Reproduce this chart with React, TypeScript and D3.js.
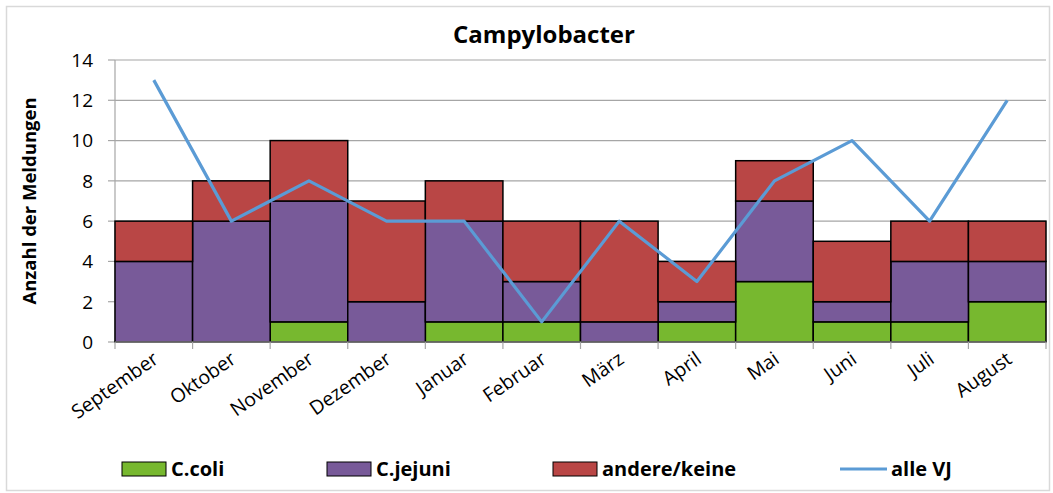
import * as d3 from "d3";

const months = ["September", "Oktober", "November", "Dezember", "Januar", "Februar", "März", "April", "Mai", "Juni", "Juli", "August"];
const coli = [0, 0, 1, 0, 1, 1, 0, 1, 3, 1, 1, 2];
const jejuni = [4, 6, 6, 2, 5, 2, 1, 1, 4, 1, 3, 2];
const andere = [2, 2, 3, 5, 2, 3, 5, 2, 2, 3, 2, 2];
const alleVJ = [13, 6, 8, 6, 6, 1, 6, 3, 8, 10, 6, 12];
const yTicks = [0, 2, 4, 6, 8, 10, 12, 14];

const seriesNames = ["C.coli", "C.jejuni", "andere/keine"];
const colors = ["#77b82f", "#785a99", "#b94645"];
const lineColor = "#5b9bd5";

const W = 1053;
const H = 493;
const margin = { left: 115, right: 7, top: 60, bottom: 151 };
const font = "'Open Sans', Lato, sans-serif";

export default function App() {
  const x = d3.scaleBand<string>().domain(months).range([margin.left, W - margin.right]).padding(0);
  const y = d3.scaleLinear().domain([0, 14]).range([H - margin.bottom, margin.top]);

  const rows = months.map((m, i) => ({ month: m, coli: coli[i], jejuni: jejuni[i], andere: andere[i] }));
  const stack = d3.stack<any>().keys(["coli", "jejuni", "andere"])(rows);

  const line = d3
    .line<number>()
    .x((_, i) => (x(months[i]) as number) + x.bandwidth() / 2)
    .y((d) => y(d));

  const legend = [
    { label: seriesNames[0], color: colors[0], x: 122, kind: "rect" },
    { label: seriesNames[1], color: colors[1], x: 327, kind: "rect" },
    { label: seriesNames[2], color: colors[2], x: 553, kind: "rect" },
    { label: "alle VJ", color: lineColor, x: 840, kind: "line" },
  ];

  const x0 = margin.left;
  const x1 = W - margin.right;

  return (
    <svg width={W} height={H} style={{ position: "absolute", left: 0, top: 0, background: "white" }} fontFamily={font}>
      <rect x={6.5} y={6.5} width={1043} height={484} fill="white" stroke="#d9d9d9" strokeWidth={1.5} />
      <text x={544} y={43} textAnchor="middle" fontSize={24} fontWeight="bold" fill="#000">
        Campylobacter
      </text>

      {/* grid and y axis */}
      {yTicks.map((t) => (
        <g key={t}>
          {t > 0 && <line x1={x0} x2={x1} y1={y(t)} y2={y(t)} stroke="#a6a6a6" strokeWidth={1.2} />}
          <line x1={x0 - 7} x2={x0} y1={y(t)} y2={y(t)} stroke="#a6a6a6" strokeWidth={1.2} />
          <text x={x0 - 22} y={y(t)} dy="0.36em" textAnchor="end" fontSize={19} fill="#000">
            {t}
          </text>
        </g>
      ))}
      <line x1={x0} x2={x0} y1={y(14)} y2={y(0)} stroke="#a6a6a6" strokeWidth={1.2} />

      {/* stacked bars */}
      {stack.map((s, si) =>
        s.map((d, i) =>
          d[1] - d[0] > 0 ? (
            <rect
              key={`${si}-${i}`}
              x={x(months[i])}
              y={y(d[1])}
              width={x.bandwidth()}
              height={y(d[0]) - y(d[1])}
              fill={colors[si]}
              stroke="#000"
              strokeWidth={1.5}
            />
          ) : null
        )
      )}

      {/* x axis */}
      <line x1={x0} x2={x1} y1={y(0)} y2={y(0)} stroke="#a6a6a6" strokeWidth={1.2} />
      {[...months.map((m) => x(m) as number), x1].map((px, i) => (
        <line key={i} x1={px} x2={px} y1={y(0)} y2={y(0) + 7} stroke="#a6a6a6" strokeWidth={1.2} />
      ))}
      {months.map((m) => {
        const cx = (x(m) as number) + x.bandwidth() / 2 + 6;
        const cy = y(0) + 20;
        return (
          <text key={m} x={cx} y={cy} textAnchor="end" fontSize={19.5} fill="#000" transform={`rotate(-35 ${cx} ${cy})`}>
            {m}
          </text>
        );
      })}

      {/* line */}
      <path d={line(alleVJ) || ""} fill="none" stroke={lineColor} strokeWidth={3.2} strokeLinejoin="round" />

      {/* y title */}
      <text
        x={0}
        y={0}
        transform={`translate(36 ${(y(0) + y(14)) / 2}) rotate(-90)`}
        textAnchor="middle"
        fontSize={18.5}
        fontWeight="bold"
        fill="#000"
      >
        Anzahl der Meldungen
      </text>

      {/* legend */}
      {legend.map((l) => (
        <g key={l.label}>
          {l.kind === "rect" ? (
            <rect x={l.x} y={462} width={44} height={14} fill={l.color} stroke="#000" strokeWidth={1} />
          ) : (
            <line x1={l.x} x2={l.x + 47} y1={469} y2={469} stroke={l.color} strokeWidth={3.2} />
          )}
          <text x={l.x + (l.kind === "rect" ? 49 : 51)} y={469} dy="0.36em" fontSize={20} fontWeight="bold" fill="#000">
            {l.label}
          </text>
        </g>
      ))}
    </svg>
  );
}
